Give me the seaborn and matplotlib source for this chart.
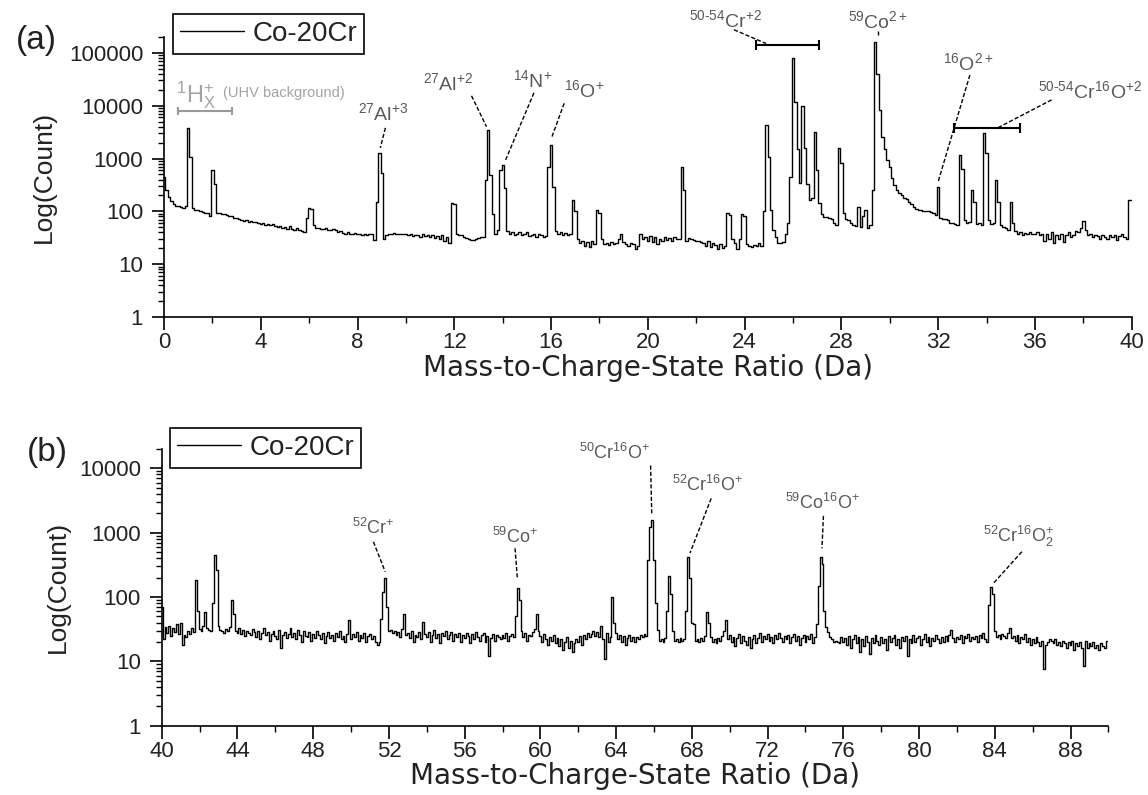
import numpy as np
import matplotlib
matplotlib.use("Agg")
import matplotlib.pyplot as plt
import seaborn as sns
from matplotlib.ticker import MultipleLocator, LogLocator, FuncFormatter, NullFormatter

# ---------------- data ----------------
# Panel (a): counts in 0.1 Da bins from 0.0 to 40.0 Da
count_a = [
    450, 250, 190, 160, 140, 128, 125, 120, 118, 125,      # 0
    3850, 1050, 118, 108, 104, 100, 98, 95, 92, 80,        # 1
    605, 330, 95, 92, 88, 90, 84, 80, 82, 76,              # 2
    74, 72, 70, 66, 68, 64, 67, 62, 63, 60,                # 3
    58, 60, 56, 57, 54, 58, 52, 50, 53, 48,                # 4
    50, 46, 52, 47, 44, 48, 45, 43, 40, 75,                # 5
    114, 110, 55, 48, 48, 47, 46, 48, 44, 45,              # 6
    46, 44, 40, 42, 39, 38, 40, 37, 38, 39,                # 7
    37, 38, 36, 37, 35, 37, 38, 29, 152, 1260,             # 8
    535, 30, 36, 38, 38, 39, 37, 38, 37, 38,               # 9
    37, 36, 38, 34, 36, 35, 33, 37, 34, 36,                # 10
    33, 35, 31, 34, 30, 36, 28, 33, 25, 142,               # 11
    135, 38, 36, 36, 33, 31, 30, 29, 29, 30,               # 12
    31, 32, 32, 390, 3470, 480, 90, 38, 45, 600,           # 13
    760, 275, 42, 38, 40, 36, 38, 41, 35, 37,              # 14
    40, 34, 36, 38, 33, 37, 35, 32, 34, 700,               # 15
    1800, 290, 42, 38, 41, 36, 39, 35, 37, 164,            # 16
    100, 30, 25, 28, 22, 26, 21, 27, 24, 106,              # 17
    95, 30, 24, 25, 23, 26, 24, 25, 30, 38,                # 18
    26, 24, 22, 25, 24, 19, 22, 38, 30, 33,                # 19
    28, 34, 26, 33, 24, 30, 27, 32, 29, 31,                # 20
    28, 33, 30, 30, 700, 255, 28, 31, 30, 29,              # 21
    28, 27, 26, 25, 22, 27, 21, 25, 23, 19,                # 22
    24, 20, 22, 92, 85, 30, 25, 19, 30, 88,                # 23
    80, 24, 22, 21, 23, 22, 25, 22, 100, 4350,             # 24
    1070, 106, 45, 33, 25, 25, 26, 38, 60, 450,            # 25
    79000, 12000, 1500, 340, 10000, 1600, 330, 165, 175, 3230,  # 26
    600, 142, 90, 79, 78, 76, 72, 60, 55, 1560,            # 27
    830, 92, 72, 70, 60, 56, 52, 123, 51, 80,              # 28
    106, 48, 55, 255, 163000, 40000, 8300, 2500, 1500, 950,  # 29
    700, 430, 310, 255, 220, 200, 180, 168, 150, 135,      # 30
    122, 112, 106, 104, 102, 101, 100, 99, 92, 86,         # 31
    293, 74, 73, 72, 70, 60, 59, 58, 56, 1170,             # 32
    630, 70, 59, 62, 255, 150, 58, 60, 56, 3000,           # 33
    1250, 70, 58, 60, 390, 150, 56, 50, 48, 45,            # 34
    152, 60, 42, 38, 40, 36, 39, 37, 40, 38,               # 35
    38, 40, 35, 38, 27, 37, 30, 40, 25, 36,                # 36
    30, 38, 26, 36, 40, 33, 35, 42, 40, 48,                # 37
    66, 45, 35, 38, 32, 36, 34, 30, 36, 33,                # 38
    30, 35, 32, 36, 29, 34, 38, 33, 30, 165,               # 39
    165,                                                   # 40.0
]
mz_a = np.round(np.linspace(0.0, 40.0, len(count_a)), 1)

# Panel (b): counts in 0.1 Da bins from 40.0 to 89.9 Da
count_b = [
    70, 22, 34, 28, 36, 25, 33, 29, 38, 27,     # 40
    40, 18, 26, 24, 30, 27, 33, 29, 183, 60,    # 41
    32, 30, 35, 59, 33, 31, 30, 80, 450, 265,   # 42
    36, 31, 30, 28, 32, 30, 34, 90, 55, 30,     # 43
    28, 33, 27, 31, 25, 30, 28, 26, 32, 29,     # 44
    24, 30, 22, 28, 33, 26, 29, 21, 27, 30,     # 45
    25, 22, 31, 16, 26, 29, 23, 27, 33, 24,     # 46
    28, 22, 31, 26, 20, 30, 25, 24, 29, 21,     # 47
    27, 23, 30, 26, 22, 28, 19, 25, 29, 23,     # 48
    26, 21, 28, 24, 30, 22, 25, 20, 27, 44,     # 49
    22, 27, 24, 29, 21, 26, 23, 28, 20, 25,     # 50
    27, 22, 25, 20, 18, 20, 45, 120, 195, 70,   # 51
    30, 31, 28, 30, 26, 29, 24, 32, 55, 26,     # 52
    28, 23, 30, 20, 26, 24, 29, 22, 41, 27,     # 53
    24, 29, 20, 26, 31, 23, 27, 19, 28, 25,     # 54
    30, 22, 26, 29, 21, 27, 24, 28, 20, 26,     # 55
    23, 28, 25, 19, 27, 22, 29, 24, 21, 26,     # 56
    28, 20, 25, 12, 23, 27, 21, 26, 24, 22,     # 57
    26, 23, 28, 21, 25, 27, 24, 50, 140, 90,    # 58
    30, 24, 28, 21, 26, 25, 29, 32, 55, 30,     # 59
    25, 20, 27, 22, 18, 24, 21, 26, 19, 23,     # 60
    17, 22, 15, 20, 24, 16, 21, 14, 19, 22,     # 61
    20, 25, 18, 26, 22, 28, 24, 27, 30, 25,     # 62
    29, 24, 35, 22, 11, 28, 20, 24, 101, 40,    # 63
    28, 22, 26, 20, 25, 18, 23, 26, 21, 24,     # 64
    20, 24, 22, 26, 24, 27, 25, 375, 1240, 1550,  # 65
    375, 80, 31, 21, 22, 20, 23, 60, 208, 110,  # 66
    30, 21, 22, 20, 23, 21, 22, 60, 424, 200,   # 67
    39, 38, 21, 22, 20, 23, 21, 25, 59, 40,     # 68
    24, 20, 22, 19, 23, 21, 25, 30, 44, 22,     # 69
    26, 20, 24, 17, 23, 27, 19, 25, 21, 18,     # 70
    24, 16, 22, 26, 19, 23, 28, 20, 25, 22,     # 71
    27, 21, 24, 19, 26, 22, 28, 23, 20, 25,     # 72
    22, 26, 19, 24, 27, 21, 25, 18, 23, 26,     # 73
    20, 25, 22, 27, 19, 24, 38, 150, 424, 330,  # 74
    60, 34, 29, 24, 22, 20, 21, 20, 19, 24,     # 75
    20, 23, 18, 25, 16, 22, 26, 19, 24, 14,     # 76
    22, 17, 25, 20, 13, 23, 19, 26, 21, 18,     # 77
    24, 19, 22, 15, 25, 20, 23, 26, 18, 22,     # 78
    16, 24, 21, 25, 12, 22, 19, 26, 20, 23,     # 79
    25, 18, 22, 27, 20, 24, 17, 23, 21, 26,     # 80
    22, 19, 24, 20, 25, 21, 26, 31, 23, 20,     # 81
    24, 22, 26, 19, 25, 23, 27, 21, 24, 22,     # 82
    25, 20, 26, 23, 28, 22, 20, 74, 144, 110,   # 83
    30, 24, 26, 22, 27, 25, 23, 28, 33, 23,     # 84
    25, 21, 26, 19, 24, 22, 27, 20, 23, 18,     # 85
    22, 19, 24, 20, 17, 21, 7.5, 18, 20, 22,    # 86
    21, 19, 22, 18, 20, 17, 21, 19, 16, 20,     # 87
    18, 21, 15, 19, 17, 20, 16, 8.5, 21, 16,    # 88
    19, 17, 20, 16, 18, 15, 19, 17, 16, 21,     # 89
]
mz_b = np.round(np.linspace(40.0, 89.9, len(count_b)), 1)

series_label = "Co-20Cr"
xlabel = "Mass-to-Charge-State Ratio (Da)"
ylabel = "Log(Count)"

# annotations: (text, text_x, text_y, leader line x1, y1, x2, y2)
ann_a = [
    (r"$^{27}$Al$^{+3}$", 9.07, 7300, 9.15, 3800, 8.94, 1590),
    (r"$^{27}$Al$^{+2}$", 11.76, 27000, 12.71, 15400, 13.33, 4000),
    (r"$^{14}$N$^{+}$", 15.24, 31000, 15.29, 17500, 14.12, 940),
    (r"$^{16}$O$^{+}$", 17.35, 20000, 16.54, 11100, 16.01, 2400),
    (r"$^{50\text{-}54}$Cr$^{+2}$", 23.2, 420000, 23.56, 274000, 24.89, 150000),
    (r"$^{59}$Co$^{2+}$", 29.5, 390000, 29.5, 262000, 29.5, 222000),
    (r"$^{16}$O$^{2+}$", 33.25, 63000, 33.31, 38000, 32.0, 365),
    (r"$^{50\text{-}54}$Cr$^{16}$O$^{+2}$", 38.26, 18500, 36.69, 12900, 34.48, 3850),
]
bars_a = [(24.47, 27.09, 143000), (32.66, 35.38, 3750)]
ann_b = [
    (r"$^{52}$Cr$^{+}$", 51.16, 1170, 51.18, 720, 51.8, 247),
    (r"$^{59}$Co$^{+}$", 58.66, 870, 58.66, 570, 58.78, 200),
    (r"$^{50}$Cr$^{16}$O$^{+}$", 63.9, 17000, 65.82, 11000, 65.88, 2000),
    (r"$^{52}$Cr$^{16}$O$^{+}$", 68.83, 5500, 69.02, 3400, 67.9, 480),
    (r"$^{59}$Co$^{16}$O$^{+}$", 74.9, 2870, 74.95, 1820, 74.87, 570),
    (r"$^{52}$Cr$^{16}$O$_2^{+}$", 85.24, 870, 85.43, 505, 83.93, 163),
]

# ---------------- style ----------------
sns.set_theme(style="ticks")
plt.rcParams["font.family"] = ["Liberation Sans", "DejaVu Sans"]
plt.rcParams["mathtext.fontset"] = "custom"
plt.rcParams["mathtext.rm"] = "Liberation Sans"
plt.rcParams["mathtext.it"] = "Liberation Sans:italic"
plt.rcParams["mathtext.bf"] = "Liberation Sans:bold"
plt.rcParams["mathtext.default"] = "regular"

fig = plt.figure(figsize=(11.48, 7.95), dpi=100)
fig.patch.set_facecolor("white")
ax_a = fig.add_axes([0.1429, 0.6013, 0.8429, 0.3522])
ax_b = fig.add_axes([0.1409, 0.0872, 0.8246, 0.3482])

TXT = "#222222"
ANN = "#5a5a5a"


def style_axis(ax, xmin, xmax, ymax, ylab_x, xlab_y):
    ax.set_yscale("log")
    ax.set_xlim(xmin, xmax)
    ax.set_ylim(1, ymax)
    ax.set_facecolor("white")
    ax.grid(False)
    ax.xaxis.set_major_locator(MultipleLocator(4))
    ax.xaxis.set_minor_locator(MultipleLocator(2))
    ax.yaxis.set_major_locator(LogLocator(base=10, numticks=12))
    ax.yaxis.set_minor_locator(LogLocator(base=10, subs=np.arange(2, 10), numticks=40))
    ax.yaxis.set_major_formatter(FuncFormatter(lambda v, p: f"{int(round(v))}"))
    ax.yaxis.set_minor_formatter(NullFormatter())
    ax.tick_params(which="major", direction="out", length=9, width=1.2,
                   labelsize=16, labelcolor=TXT, color="black",
                   top=False, right=False)
    ax.tick_params(axis="x", which="major", pad=2)
    ax.tick_params(axis="y", which="major", pad=6)
    ax.tick_params(which="minor", direction="out", length=4.5, width=1.0,
                   color="black", top=False, right=False)
    sns.despine(ax=ax)
    for s in ("left", "bottom"):
        ax.spines[s].set_color("black")
        ax.spines[s].set_linewidth(1.2)
    ax.set_xlabel(xlabel, fontsize=20, color=TXT, family=["DejaVu Sans"])
    ax.set_ylabel(ylabel, fontsize=19, color=TXT)
    ax.yaxis.set_label_coords(ylab_x, 0.5)
    ax.xaxis.set_label_coords(0.5, xlab_y)


def draw_ann(ax, items, fs):
    for (t, tx, ty, x1, y1, x2, y2) in items:
        ax.text(tx, ty, t, fontsize=fs, color=ANN, ha="center", va="center",
                clip_on=False)
        ax.plot([x1, x2], [y1, y2], color="black", lw=1.0,
                ls=(0, (3, 1.5)), clip_on=False)


# ---- panel (a)
sns.lineplot(x=mz_a, y=count_a, ax=ax_a, color="black", lw=1.0,
             drawstyle="steps-mid", label=series_label, estimator=None)
style_axis(ax_a, 0, 40, 2e5, -0.112, -0.131)
draw_ann(ax_a, ann_a, 14)
for (x1, x2, y) in bars_a:
    ax_a.plot([x1, x2], [y, y], color="black", lw=1.5, marker="|",
              markersize=7, mew=1.5, clip_on=False)
# 1Hx+ background marker (light grey)
ax_a.text(1.33, 16000, r"$^{1}$H$_{X}^{+}$", fontsize=17, color="#a3a3a3",
          ha="center", va="center")
ax_a.text(2.44, 17500, "(UHV background)", fontsize=10.5, color="#a3a3a3",
          ha="left", va="center")
ax_a.plot([0.58, 2.82], [8000, 8000], color="#999999", lw=1.5, marker="|",
          markersize=6, mew=1.5)

# ---- panel (b)
sns.lineplot(x=mz_b, y=count_b, ax=ax_b, color="black", lw=1.0,
             drawstyle="steps-mid", label=series_label, estimator=None)
style_axis(ax_b, 40, 90, 2e4, -0.097, -0.131)
draw_ann(ax_b, ann_b, 13)

# legends
for ax, anchor in ((ax_a, (0.1507, 0.9824)), (ax_b, (0.1481, 0.4616))):
    h, l = ax.get_legend_handles_labels()
    leg = ax.legend(h[:1], l[:1], loc="upper left", bbox_to_anchor=anchor,
                    bbox_transform=fig.transFigure, frameon=True, fancybox=False,
                    edgecolor="black", framealpha=1, fontsize=20,
                    handlelength=2.3, handletextpad=0.3, borderpad=0.25,
                    borderaxespad=0)
    leg.get_frame().set_linewidth(1.2)
    for txt in leg.get_texts():
        txt.set_color(TXT)

fig.text(36 / 1148, 1 - 40 / 795, "(a)", fontsize=24, color=TXT,
         ha="center", va="center")
fig.text(47 / 1148, 1 - 452 / 795, "(b)", fontsize=24, color=TXT,
         ha="center", va="center")

fig.savefig("out.png", dpi=100, facecolor="white")
